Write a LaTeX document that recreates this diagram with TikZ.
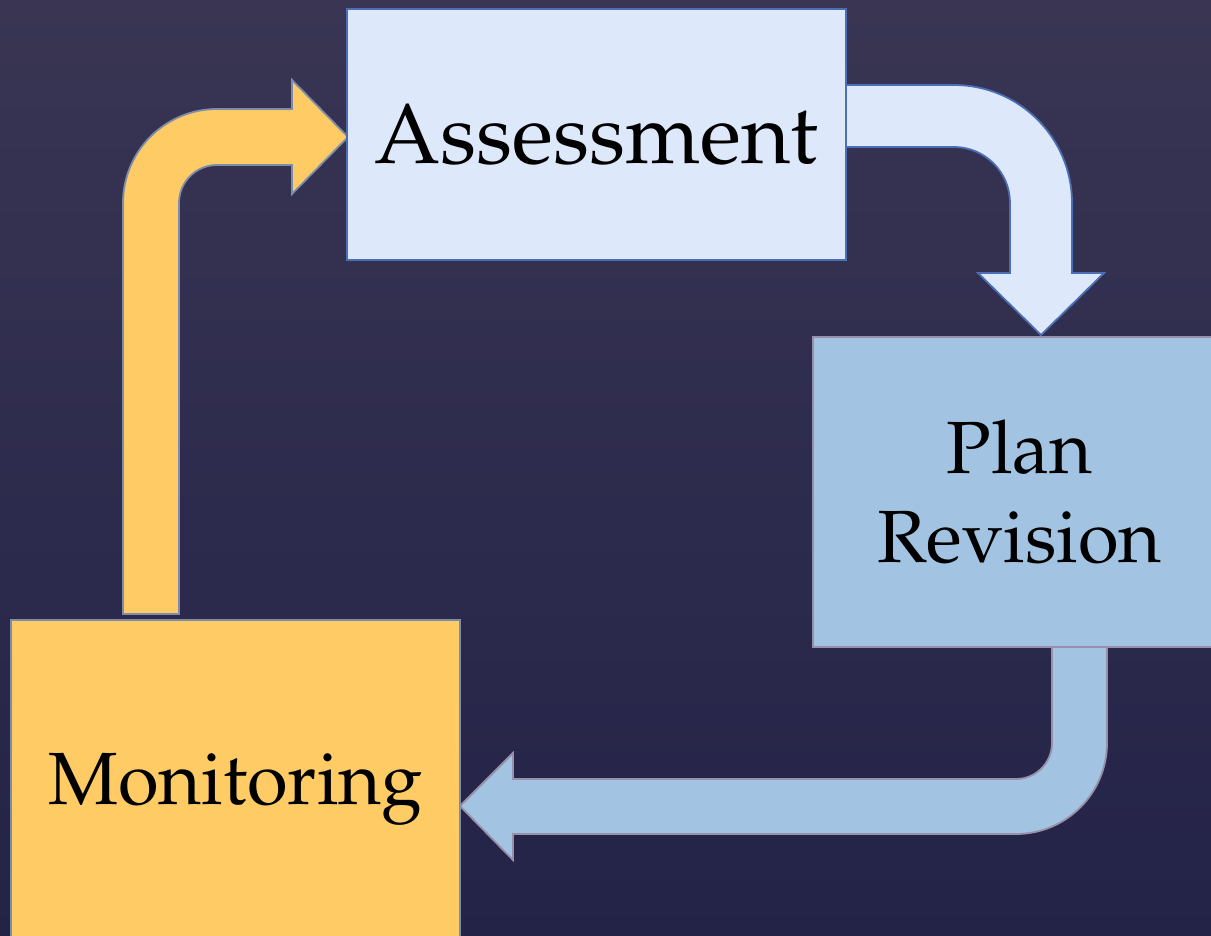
\documentclass[tikz,border=0pt]{standalone}
\usepackage[T1]{fontenc}
\renewcommand{\rmdefault}{ppl}
\begin{document}
\begin{tikzpicture}[x=1pt,y=-1pt,
  box/.style={draw, line width=1.8pt, inner sep=0pt, align=center, text=black,
    font=\fontsize{74}{89}\selectfont},
  blockarrow/.style={line width=1.8pt, line join=miter}]
\definecolor{bgtop}{RGB}{57,53,83}
\definecolor{bgbot}{RGB}{35,35,72}
\definecolor{yfill}{RGB}{254,203,101}
\definecolor{yline}{RGB}{124,140,170}
\definecolor{afill}{RGB}{221,233,251}
\definecolor{aline}{RGB}{76,110,180}
\definecolor{pfill}{RGB}{162,196,226}
\definecolor{pline}{RGB}{152,143,168}
\useasboundingbox (0,0) rectangle (1211,936);
\clip (0,0) rectangle (1211,936);
\shade[top color=bgtop, bottom color=bgbot] (0,0) rectangle (1211,936);

% yellow arrow: Monitoring -> Assessment
\filldraw[blockarrow, fill=yfill, draw=yline]
  (123,614) -- (123,203) .. controls (123,151.1) and (165.1,109) .. (217,109)
  -- (292,109) -- (292,80) -- (348,137) -- (292,194) -- (292,165) -- (217,165)
  .. controls (196,165) and (179,182) .. (179,203) -- (179,614) -- cycle;

% light blue arrow: Assessment -> Plan Revision
\filldraw[blockarrow, fill=afill, draw=aline]
  (846,85) -- (954,85) .. controls (1019.2,85) and (1072,137.8) .. (1072,203)
  -- (1072,273) -- (1104,273) -- (1041,335) -- (978,273) -- (1010,273) -- (1010,203)
  .. controls (1010,172.1) and (984.9,147) .. (954,147) -- (846,147) -- cycle;

% blue arrow: Plan Revision -> Monitoring
\filldraw[blockarrow, fill=pfill, draw=pline]
  (1052,640) -- (1107,640) -- (1107,743) .. controls (1107,793.3) and (1066.3,834) .. (1016,834)
  -- (513,834) -- (513,860) -- (460,806) -- (513,753) -- (513,779) -- (1016,779)
  .. controls (1035.9,779) and (1052,762.9) .. (1052,743) -- cycle;

\node[box, fill=afill, draw=aline, minimum width=499pt, minimum height=251pt,
  font=\fontsize{85}{100}\selectfont]
  (assess) at (596.5,134.5) {Assessment};
\node[box, fill=pfill, draw=pline, minimum width=413pt, minimum height=310pt]
  (plan) at (1019.5,492) {Plan\\Revision};
\node[box, fill=yfill, draw=yline, minimum width=449pt, minimum height=317pt,
  text depth=0pt]
  (monitor) at (235.5,778.5) {Monitoring};
\end{tikzpicture}
\end{document}
